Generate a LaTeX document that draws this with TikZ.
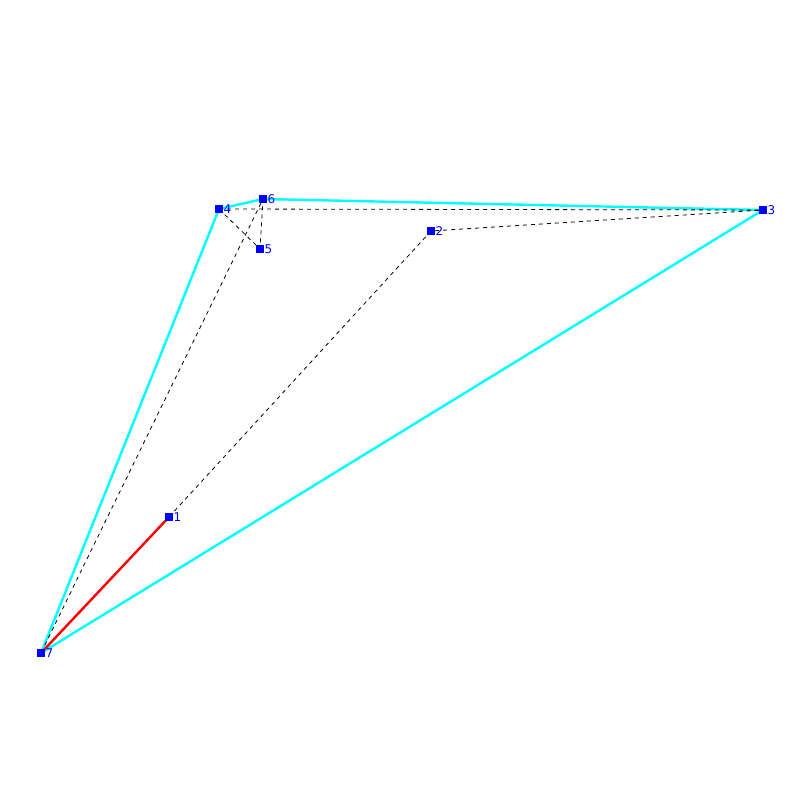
\documentclass[tikz,border=0pt]{standalone}
\usepackage{fontspec}
\setmainfont{DejaVu Sans}
\definecolor{hullc}{RGB}{0,255,255}
\definecolor{ptc}{RGB}{0,0,255}
\definecolor{redc}{RGB}{255,0,0}
\begin{document}
\begin{tikzpicture}[x=1pt,y=-1pt,
  pt/.style={fill=ptc,draw=none,minimum size=8pt,inner sep=0pt,outer sep=0pt},
  lbl/.style={text=ptc,font=\fontsize{12}{12}\selectfont,inner sep=0pt,anchor=west},
  hull/.style={hullc,line width=2.4pt},
  dsh/.style={black,line width=0.8pt,dash pattern=on 4pt off 4pt},
  redl/.style={redc,line width=2.4pt}]
\useasboundingbox (0,0) rectangle (800,800);
\coordinate (p1) at (169,517);
\coordinate (p2) at (431,231);
\coordinate (p3) at (763,210);
\coordinate (p4) at (219,209);
\coordinate (p5) at (260,249);
\coordinate (p6) at (263,199);
\coordinate (p7) at (41,653);
\draw[hull] (p7) -- (p4) -- (p6) -- (p3) -- cycle;
\draw[dsh] (p4) -- (p5) -- (p6) -- (p7);
\draw[dsh] (p4) -- (p3);
\draw[dsh] (p1) -- (p2) -- (p3);
\draw[redl] (p7) -- (p1);
\foreach \i in {1,...,7} {
  \node[pt] (n\i) at (p\i) {};
  \node[lbl] (l\i) at ([xshift=4.5pt]p\i) {\i};
}
\end{tikzpicture}
\end{document}
